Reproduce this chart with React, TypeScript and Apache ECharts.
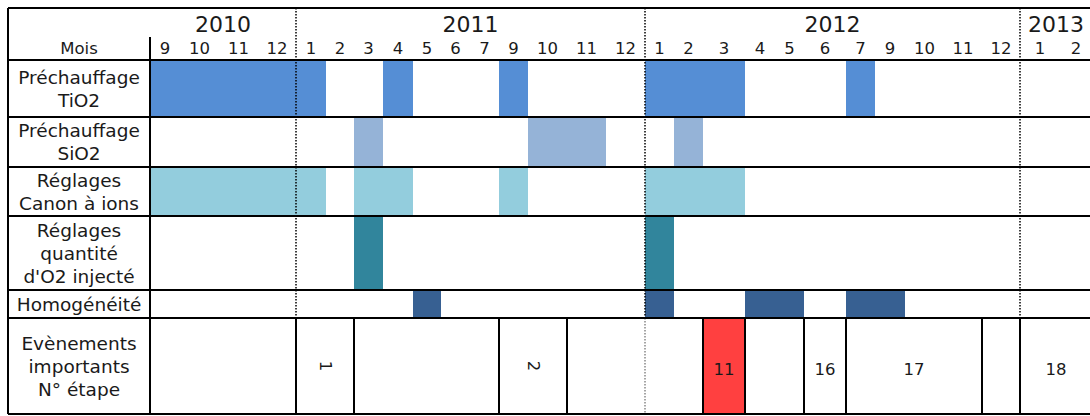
import React, { useEffect, useRef } from "react";
import * as echarts from "echarts";

// ---------- data ----------
const years = ["2010", "2011", "2012", "2013"];
const months2010 = [9, 10, 11, 12];
const months2011 = [1, 2, 3, 4, 5, 6, 7, 9, 10, 11, 12];
const months2012 = [1, 2, 3, 4, 5, 6, 7, 9, 10, 11, 12];
const months2013 = [1, 2];
const monthHeader = "Mois";

const rowLabels = [
  "Préchauffage\nTiO2",
  "Préchauffage\nSiO2",
  "Réglages\nCanon à ions",
  "Réglages\nquantité\nd'O2 injecté",
  "Homogénéité",
];
const eventsRowLabel = "Evènements\nimportants\nN° étape";

const tio2Periods = [["2010-9", "2011-1"], ["2011-4", "2011-4"], ["2011-9", "2011-9"], ["2012-1", "2012-3"], ["2012-7", "2012-7"]];
const sio2Periods = [["2011-3", "2011-3"], ["2011-10", "2011-11"], ["2012-2", "2012-2"]];
const canonPeriods = [["2010-9", "2011-1"], ["2011-3", "2011-4"], ["2011-9", "2011-9"], ["2012-1", "2012-3"]];
const o2Periods = [["2011-3", "2011-3"], ["2012-1", "2012-1"]];
const homogPeriods = [["2011-5", "2011-5"], ["2012-1", "2012-1"], ["2012-4", "2012-5"], ["2012-7", "2012-9"]];

const eventCells = [
  ["2010-9", "2010-12", ""],
  ["2011-1", "2011-2", "1"],
  ["2011-3", "2011-7", ""],
  ["2011-9", "2011-10", "2"],
  ["2011-11", "2012-2", ""],
  ["2012-3", "2012-3", "11"],
  ["2012-4", "2012-5", ""],
  ["2012-6", "2012-6", "16"],
  ["2012-7", "2012-11", "17"],
  ["2012-12", "2012-12", ""],
  ["2013-1", "2013-2", "18"],
];
const rotatedEvents = ["1", "2"];
const highlightedEvent = "11";

// ---------- layout & style ----------
const COL_EDGES = [150, 180, 219, 258, 296, 326, 354, 383, 413, 441, 470, 499, 528, 567, 606, 645, 674, 703, 745, 775, 804, 846, 875, 905, 944, 982, 1020, 1060, 1092];
const ROW_EDGES = [60, 117, 167, 216, 290, 318, 414];
const W = 1090;
const H = 416;
const T_LEFT = 8;
const T_TOP = 8;
const T_RIGHT = 1100;
const LABEL_X = 150;
const MONTH_ROW_TOP = 37;
const YEAR_Y = 24;
const MONTH_Y = 48.5;
const EVENT_TEXT_DY = 3;
const COLORS = ["#558ED5", "#95B3D7", "#93CDDD", "#31859C", "#376092"];
const HIGHLIGHT = "#FF4040";
const FONT = '"DejaVu Sans", Verdana, sans-serif';
const TXT = "#1a1a1a";

const yearMonths = [months2010, months2011, months2012, months2013];
const monthKeys = years.flatMap((y, i) => yearMonths[i].map((m) => `${y}-${m}`));
const idx = (k: string) => monthKeys.indexOf(k);

function txt(x: number, y: number, text: string, size: number, extra: any = {}) {
  return {
    type: "text",
    z: 100,
    x,
    y,
    style: {
      text,
      font: `normal ${size}px ${FONT}`,
      fill: TXT,
      align: "center",
      verticalAlign: "middle",
      textAlign: "center",
      textVerticalAlign: "middle",
      ...extra,
    },
  };
}
function ln(x1: number, y1: number, x2: number, y2: number, w = 2, color = "#000", dash?: number[]) {
  return {
    type: "line",
    z: 100,
    shape: { x1, y1, x2, y2 },
    style: { stroke: color, lineWidth: w, lineDash: dash },
  };
}

export default function App() {
  const ref = useRef<HTMLDivElement>(null);
  useEffect(() => {
    if (!ref.current) return;
    const chart = echarts.init(ref.current, undefined, { renderer: "svg" });

    const activityNames = rowLabels.map((l) => l.replace(/\n/g, " "));
    const activityPeriods = [tio2Periods, sio2Periods, canonPeriods, o2Periods, homogPeriods];

    const barSeries = activityPeriods.map((periods, r) => ({
      type: "custom",
      name: activityNames[r],
      z: 2,
      clip: false,
      data: periods.map(([a, b]) => [COL_EDGES[idx(a)], COL_EDGES[idx(b) + 1], ROW_EDGES[r], ROW_EDGES[r + 1]]),
      encode: { x: [0, 1], y: [2, 3] },
      renderItem: (params: any, api: any) => {
        const p0 = api.coord([api.value(0), api.value(2)]);
        const p1 = api.coord([api.value(1), api.value(3)]);
        return {
          type: "rect",
          shape: { x: p0[0], y: p0[1], width: p1[0] - p0[0], height: p1[1] - p0[1] },
          style: { fill: COLORS[r] },
        };
      },
    }));

    const eventSeries = {
      type: "custom",
      name: "Evènements",
      z: 3,
      clip: false,
      data: eventCells.map(([a, b]) => [COL_EDGES[idx(a)], COL_EDGES[idx(b) + 1], ROW_EDGES[5], ROW_EDGES[6]]),
      encode: { x: [0, 1], y: [2, 3] },
      renderItem: (params: any, api: any) => {
        const label = eventCells[params.dataIndex][2];
        const rotated = rotatedEvents.includes(label);
        const p0 = api.coord([api.value(0), api.value(2)]);
        const p1 = api.coord([api.value(1), api.value(3)]);
        const cx = (p0[0] + p1[0]) / 2;
        const cy = (p0[1] + p1[1]) / 2 + (rotated ? 0 : EVENT_TEXT_DY);
        return {
          type: "group",
          children: [
            {
              type: "rect",
              shape: { x: p0[0], y: p0[1], width: p1[0] - p0[0], height: p1[1] - p0[1] },
              style: { fill: label === highlightedEvent ? HIGHLIGHT : "#fff", stroke: "#000", lineWidth: 2 },
            },
            {
              type: "text",
              x: cx,
              y: cy,
              rotation: rotated ? -Math.PI / 2 : 0,
              style: {
                text: label,
                font: `normal 16.5px ${FONT}`,
                fill: TXT,
                align: "center",
                verticalAlign: "middle",
                textAlign: "center",
                textVerticalAlign: "middle",
              },
            },
          ],
        };
      },
    };

    const elements: any[] = [];
    const yearFirst = years.map((y) => monthKeys.findIndex((k) => k.startsWith(y + "-")));
    years.forEach((y, i) => {
      const a = COL_EDGES[yearFirst[i]];
      const b = COL_EDGES[yearFirst[i] + yearMonths[i].length];
      elements.push(txt((a + b) / 2, YEAR_Y, y, 22));
    });
    const cellBounds = eventCells.map(([a]) => COL_EDGES[idx(a)]);
    yearFirst.slice(1).forEach((fi) => {
      const x = COL_EDGES[fi];
      elements.push(ln(x, T_TOP, x, ROW_EDGES[5], 1.5, "#000", [1.5, 1.5]));
      if (!cellBounds.includes(x)) elements.push(ln(x, ROW_EDGES[5], x, ROW_EDGES[6], 1.5, "#888", [1.5, 1.5]));
    });
    monthKeys.forEach((k, i) => {
      const m = k.split("-")[1];
      elements.push(txt((COL_EDGES[i] + COL_EDGES[i + 1]) / 2, MONTH_Y, m, 16.5));
    });
    elements.push(txt((T_LEFT + LABEL_X) / 2, MONTH_Y, monthHeader, 16.5));
    [...rowLabels, eventsRowLabel].forEach((l, r) => {
      elements.push(txt((T_LEFT + LABEL_X) / 2, (ROW_EDGES[r] + ROW_EDGES[r + 1]) / 2, l, 18.5, { lineHeight: 23 }));
    });
    elements.push(ln(T_LEFT, T_TOP, T_RIGHT, T_TOP));
    elements.push(ln(T_LEFT, T_TOP, T_LEFT, ROW_EDGES[6]));
    elements.push(ln(T_LEFT, ROW_EDGES[6], T_RIGHT, ROW_EDGES[6]));
    ROW_EDGES.slice(0, 6).forEach((y) => elements.push(ln(T_LEFT, y, T_RIGHT, y)));
    elements.push(ln(LABEL_X, MONTH_ROW_TOP, LABEL_X, ROW_EDGES[6]));

    chart.setOption({
      animation: false,
      grid: { left: 0, top: 0, width: W, height: H },
      xAxis: { type: "value", min: 0, max: W, show: false },
      yAxis: { type: "value", min: 0, max: H, inverse: true, show: false },
      series: [...barSeries, eventSeries],
      graphic: { elements },
    });
    return () => chart.dispose();
  }, []);
  return <div ref={ref} style={{ position: "absolute", left: 0, top: 0, width: W, height: H }} />;
}
